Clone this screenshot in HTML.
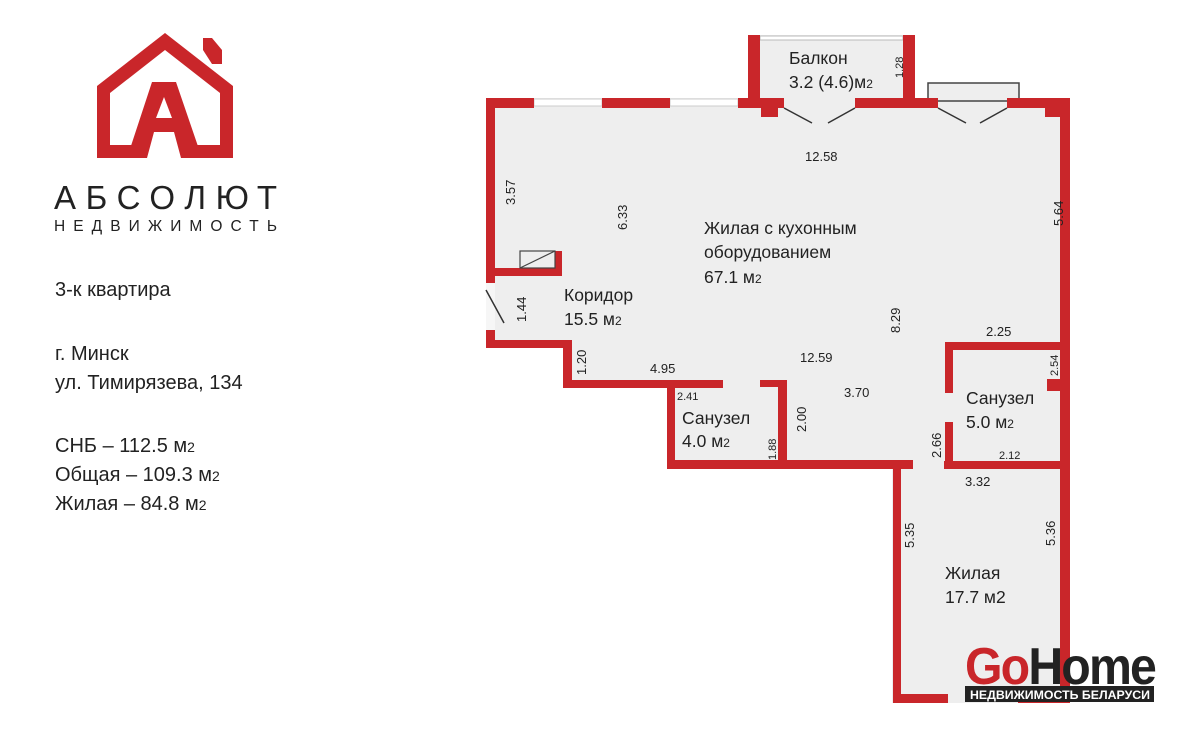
<!DOCTYPE html>
<html><head><meta charset="utf-8"><style>
html,body{margin:0;padding:0;background:#fff;}
svg{display:block;}
text{font-family:"Liberation Sans",sans-serif;fill:#222;}
</style></head><body>
<svg width="1200" height="729" viewBox="0 0 1200 729" xmlns="http://www.w3.org/2000/svg">
<!-- Logo -->
<g fill="#c9262a">
  <path d="M97,158 L97,86 L165,33 L233,86 L233,158 L192,158 L188,145 L220,145 L220,93 L165,50 L110,93 L110,145 L136,145 L132,158 Z"/>
  <polygon points="203,38 212,38 222,50 222,64 212,64 203,50"/>
  <path d="M127,158 L152,82 L176,82 L202,158 L181,158 L174,132 L154,132 L147,158 Z M156,118 L172,118 L164,97 Z"/>
</g>
<text x="54" y="209" font-size="33" textLength="223" lengthAdjust="spacing" fill="#333">АБСОЛЮТ</text>
<text x="54" y="231" font-size="15.5" textLength="223" lengthAdjust="spacing" fill="#333">НЕДВИЖИМОСТЬ</text>

<g font-size="20">
<text x="55" y="296">3-к квартира</text>
<text x="55" y="360">г. Минск</text>
<text x="55" y="389">ул. Тимирязева, 134</text>
<text x="55" y="452">СНБ – 112.5 м<tspan font-size="14">2</tspan></text>
<text x="55" y="481">Общая – 109.3 м<tspan font-size="14">2</tspan></text>
<text x="55" y="510">Жилая – 84.8 м<tspan font-size="14">2</tspan></text>
</g>

<!-- Floor fill -->
<path d="M486,98 L1070,98 L1070,703 L892,703 L892,468 L667,468 L667,382 L572,382 L572,348 L486,348 Z" fill="#eeeeee"/>
<rect x="748" y="35" width="167" height="70" fill="#eeeeee"/>
<rect x="928" y="83" width="91" height="18" fill="#eeeeee" stroke="#444" stroke-width="1.5"/>
<rect x="760" y="36" width="143" height="4" fill="#fff" stroke="#bbb" stroke-width="1"/>
<rect x="534" y="99" width="68" height="7" fill="#fff" stroke="#ccc" stroke-width="1"/>
<rect x="670" y="99" width="68" height="7" fill="#fff" stroke="#ccc" stroke-width="1"/>
<rect x="486" y="283" width="9" height="47" fill="#f6f6f6"/>

<!-- Walls -->
<g fill="#c9262a">
  <rect x="486" y="98" width="48" height="10"/>
  <rect x="602" y="98" width="68" height="10"/>
  <rect x="738" y="98" width="46" height="10"/>
  <rect x="748" y="35" width="12" height="73"/>
  <rect x="761" y="98" width="17" height="19"/>
  <rect x="855" y="98" width="83" height="10"/>
  <rect x="903" y="35" width="12" height="73"/>
  <rect x="1007" y="98" width="63" height="10"/>
  <rect x="1045" y="98" width="25" height="19"/>
  <rect x="1060" y="98" width="10" height="605"/>
  <rect x="486" y="98" width="9" height="185"/>
  <rect x="486" y="268" width="76" height="8"/>
  <rect x="555" y="251" width="7" height="25"/>
  <rect x="486" y="330" width="9" height="18"/>
  <rect x="486" y="340" width="86" height="8"/>
  <rect x="563" y="340" width="9" height="48"/>
  <rect x="563" y="380" width="160" height="8"/>
  <rect x="667" y="380" width="8" height="89"/>
  <rect x="667" y="460" width="246" height="9"/>
  <rect x="760" y="380" width="27" height="7"/>
  <rect x="778" y="380" width="9" height="85"/>
  <rect x="945" y="342" width="8" height="51"/>
  <rect x="945" y="342" width="125" height="8"/>
  <rect x="1047" y="379" width="23" height="12"/>
  <rect x="945" y="422" width="8" height="47"/>
  <rect x="944" y="461" width="126" height="8"/>
  <rect x="893" y="461" width="8" height="242"/>
  <rect x="893" y="694" width="55" height="9"/>
  <rect x="1018" y="694" width="52" height="9"/>
</g>
<rect x="520" y="251" width="35" height="17" fill="none" stroke="#444" stroke-width="1.2"/>
<line x1="520" y1="268" x2="555" y2="251" stroke="#444" stroke-width="1.2"/>
<g stroke="#333" stroke-width="1.5">
  <line x1="784" y1="108" x2="812" y2="123"/>
  <line x1="855" y1="108" x2="828" y2="123"/>
  <line x1="938" y1="108" x2="966" y2="123"/>
  <line x1="1007" y1="108" x2="980" y2="123"/>
  <line x1="486" y1="290" x2="504" y2="323"/>
</g>

<!-- Room labels -->
<g font-size="17.5">
<text x="789" y="64">Балкон</text>
<text x="789" y="88">3.2 (4.6)м<tspan font-size="12">2</tspan></text>
<text x="704" y="234">Жилая с кухонным</text>
<text x="704" y="258">оборудованием</text>
<text x="704" y="283">67.1 м<tspan font-size="12">2</tspan></text>
<text x="564" y="301">Коридор</text>
<text x="564" y="325">15.5 м<tspan font-size="12">2</tspan></text>
<text x="682" y="424">Санузел</text>
<text x="682" y="447">4.0 м<tspan font-size="12">2</tspan></text>
<text x="966" y="404">Санузел</text>
<text x="966" y="428">5.0 м<tspan font-size="12">2</tspan></text>
<text x="945" y="579">Жилая</text>
<text x="945" y="603">17.7 м2</text>
</g>
<g font-size="13">
<text x="805" y="161">12.58</text>
<text x="800" y="362">12.59</text>
<text x="650" y="373">4.95</text>
<text x="844" y="397">3.70</text>
<text x="986" y="336">2.25</text>
<text x="965" y="486">3.32</text>
<text x="999" y="459" font-size="11">2.12</text>
<text x="677" y="400" font-size="11">2.41</text>
<text transform="translate(515,205) rotate(-90)">3.57</text>
<text transform="translate(627,230) rotate(-90)">6.33</text>
<text transform="translate(526,322) rotate(-90)">1.44</text>
<text transform="translate(586,375) rotate(-90)">1.20</text>
<text transform="translate(900,333) rotate(-90)">8.29</text>
<text transform="translate(1063,226) rotate(-90)">5.64</text>
<text transform="translate(806,432) rotate(-90)">2.00</text>
<text transform="translate(776,460) rotate(-90)" font-size="11">1.88</text>
<text transform="translate(903,78) rotate(-90)" font-size="11">1.28</text>
<text transform="translate(1058,376) rotate(-90)" font-size="11">2.54</text>
<text transform="translate(941,458) rotate(-90)">2.66</text>
<text transform="translate(914,548) rotate(-90)">5.35</text>
<text transform="translate(1055,546) rotate(-90)">5.36</text>
</g>

<!-- GoHome -->
<text x="965" y="684" font-size="52" font-weight="bold" textLength="190" lengthAdjust="spacingAndGlyphs" letter-spacing="-2"><tspan fill="#c9262a">Go</tspan><tspan fill="#222">Home</tspan></text>
<rect x="965" y="686" width="189" height="16" fill="#222"/>
<text x="970" y="699" font-size="11.5" font-weight="bold" textLength="180" lengthAdjust="spacingAndGlyphs" style="fill:#fff">НЕДВИЖИМОСТЬ БЕЛАРУСИ</text>
</svg>
</body></html>
